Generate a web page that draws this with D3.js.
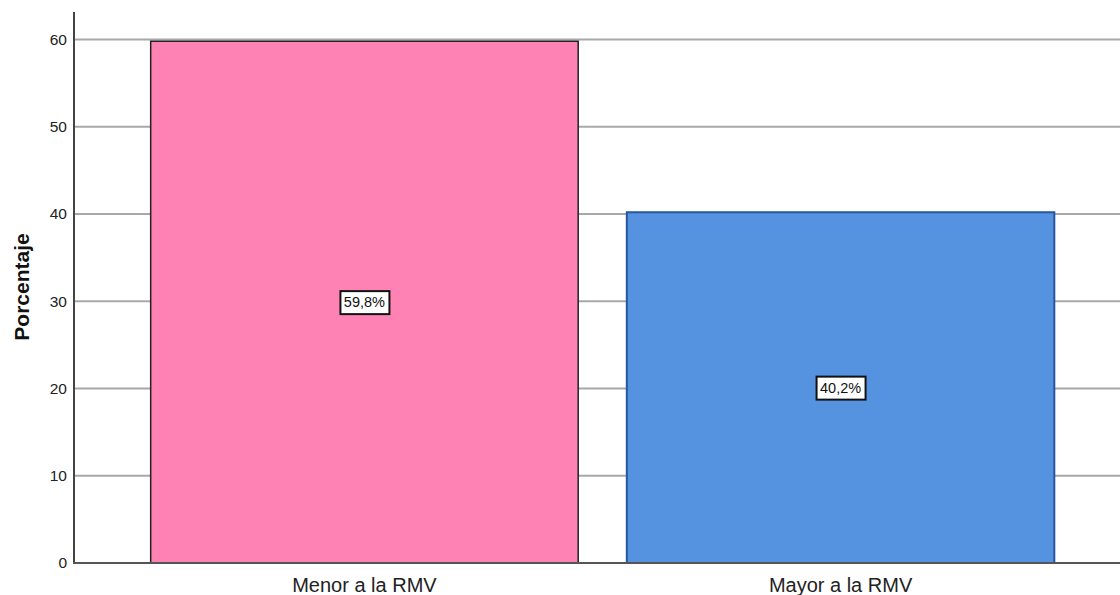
<!DOCTYPE html>
<html>
<head>
<meta charset="utf-8">
<script src="https://cdn.jsdelivr.net/npm/d3@7"></script>
<style>
  body { margin: 0; background: #fff; }
  text { font-family: "Liberation Sans", Arial, sans-serif; }
</style>
</head>
<body>
<div id="chart"></div>
<script>
const categories = ['Menor a la RMV', 'Mayor a la RMV']
const values = [59.8, 40.2]
const labels = ['59,8%', '40,2%']
const yTicks = [0, 10, 20, 30, 40, 50, 60]
const fills = ['#ff82b4', '#5593e1']
const strokes = ['#222', '#2856a0']

const width = 1120, height = 595
const svg = d3.select('#chart').append('svg')
    .attr('width', width)
    .attr('height', height)

const x = d3.scaleBand()
    .domain(categories)
    .range([74, 1131])
    .paddingInner(0.1)
    .paddingOuter(0.16)

const y = d3.scaleLinear()
    .domain([0, 60])
    .range([563, 39.5])

// grid
svg.append('g')
    .selectAll('line')
    .data(yTicks.filter(t => t > 0))
    .enter().append('line')
    .attr('x1', 75).attr('x2', width)
    .attr('y1', d => y(d)).attr('y2', d => y(d))
    .attr('stroke', '#a8a8a8')
    .attr('stroke-width', 2)

// bars
svg.append('g')
    .selectAll('rect')
    .data(categories)
    .enter().append('rect')
    .attr('x', d => x(d) + 0.5)
    .attr('y', (d, i) => y(values[i]))
    .attr('width', x.bandwidth() - 1)
    .attr('height', (d, i) => y(0) - y(values[i]))
    .attr('fill', (d, i) => fills[i])
    .attr('stroke', (d, i) => strokes[i])
    .attr('stroke-width', (d, i) => i ? 2 : 1.5)

// axes
svg.append('line')
    .attr('x1', 74).attr('x2', 74)
    .attr('y1', 12).attr('y2', y(0) + 1)
    .attr('stroke', '#444').attr('stroke-width', 2)
svg.append('line')
    .attr('x1', 73).attr('x2', width)
    .attr('y1', y(0)).attr('y2', y(0))
    .attr('stroke', '#555').attr('stroke-width', 2)

svg.append('g')
    .selectAll('text')
    .data(yTicks)
    .enter().append('text')
    .attr('x', 67)
    .attr('y', d => y(d))
    .attr('dy', '0.35em')
    .attr('text-anchor', 'end')
    .attr('font-size', 15.5)
    .attr('fill', '#222')
    .text(d => d)

svg.append('g')
    .selectAll('text')
    .data(categories)
    .enter().append('text')
    .attr('x', d => x(d) + x.bandwidth() / 2)
    .attr('y', 592)
    .attr('text-anchor', 'middle')
    .attr('font-size', 20)
    .attr('fill', '#222')
    .text(d => d)

svg.append('text')
    .attr('transform', 'translate(29,' + 287 + ') rotate(-90)')
    .attr('text-anchor', 'middle')
    .attr('font-size', 21)
    .attr('font-weight', 'bold')
    .attr('fill', '#111')
    .text('Porcentaje')

// value labels
const lg = svg.append('g')
    .selectAll('g')
    .data(categories)
    .enter().append('g')
    .attr('transform', (d, i) => 'translate(' + (x(d) + x.bandwidth() / 2) + ',' + y(values[i] / 2) + ')')

lg.append('rect')
    .attr('x', -24).attr('y', -11)
    .attr('width', 49).attr('height', 23)
    .attr('fill', '#fff')
    .attr('stroke', '#111')
    .attr('stroke-width', 2)

lg.append('text')
    .attr('text-anchor', 'middle')
    .attr('dy', '0.36em')
    .attr('font-size', 14.5)
    .attr('fill', '#111')
    .text((d, i) => labels[i])
</script>
</body>
</html>
